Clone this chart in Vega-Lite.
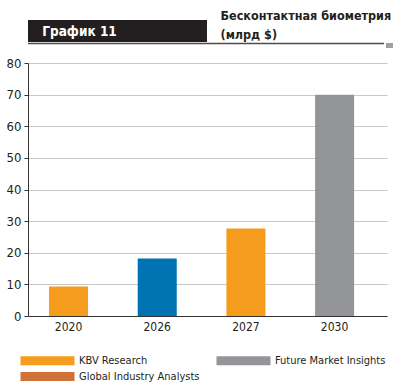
{
  "$schema": "https://vega.github.io/schema/vega-lite/v6.json",
  "background": "white",
  "padding": {"left": 6, "top": 10, "right": 0, "bottom": 0},
  "autosize": {"type": "pad"},
  "spacing": 0,
  "config": {
    "view": {"stroke": null},
    "font": "DejaVu Sans Condensed"
  },
  "datasets": {
    "header": [{"label": "График 11"}],
    "title": [{"label": "Бесконтактная биометрия\n(млрд $)"}],
    "bars": [
      {"year": "2020", "value": 9.3, "source": "KBV Research", "group": "KBV Research"},
      {"year": "2026", "value": 18.2, "source": "Global Industry Analysts", "group": "Global Industry Analysts (2026)"},
      {"year": "2027", "value": 27.7, "source": "KBV Research", "group": "KBV Research"},
      {"year": "2030", "value": 70, "source": "Future Market Insights", "group": "Future Market Insights"}
    ]
  },
  "vconcat": [
    {
      "spacing": 13,
      "hconcat": [
        {
          "width": 179,
          "height": 22,
          "view": {"fill": "#231f20", "stroke": null},
          "data": {"name": "header"},
          "mark": {"type": "text", "align": "center", "baseline": "middle", "dx": -38, "dy": 1, "fontWeight": "bold", "fontSize": 13.5, "color": "white"},
          "encoding": {"text": {"field": "label"}}
        },
        {
          "width": 1,
          "height": 22,
          "data": {"name": "title"},
          "mark": {"type": "text", "align": "left", "baseline": "alphabetic", "lineBreak": "\n", "lineHeight": 19, "dy": -11, "fontWeight": "bold", "fontSize": 12.5, "color": "#231f20"},
          "encoding": {"text": {"field": "label"}}
        }
      ]
    },
    {
      "spacing": 1,
      "hconcat": [
        {
          "width": 356,
          "height": 14,
          "data": {"values": [{"v": 0.97}]},
          "mark": {"type": "rule", "color": "#4d4d4f", "strokeWidth": 1.5},
          "encoding": {"y": {"field": "v", "type": "quantitative", "scale": {"domain": [0, 1]}, "axis": null}}
        },
        {
          "width": 7,
          "height": 5,
          "view": {"fill": "#9d9fa2", "stroke": null},
          "data": {"values": []},
          "mark": "point",
          "encoding": {}
        }
      ]
    },
    {
      "width": 359,
      "height": 253,
      "data": {"name": "bars"},
      "mark": {"type": "bar"},
      "encoding": {
        "x": {
          "field": "year",
          "type": "ordinal",
          "scale": {"paddingInner": 0.56, "paddingOuter": 0.304, "align": 0.39},
          "axis": {"title": null, "labelAngle": 0, "ticks": false, "labelPadding": 5, "domainColor": "#333333", "domainWidth": 1, "labelFontSize": 12, "labelColor": "#231f20"}
        },
        "y": {
          "field": "value",
          "type": "quantitative",
          "scale": {"domain": [0, 80]},
          "axis": {"title": null, "values": [0, 10, 20, 30, 40, 50, 60, 70, 80], "tickSize": 4, "tickColor": "#333333", "labelPadding": 3, "gridColor": "#c8c8c8", "gridWidth": 1.2, "domainColor": "#333333", "labelFontSize": 13, "labelColor": "#231f20"}
        },
        "color": {
          "field": "group",
          "type": "nominal",
          "scale": {
            "domain": ["KBV Research", "Future Market Insights", "Global Industry Analysts", "Global Industry Analysts (2026)"],
            "range": ["#f59c1e", "#939598", "#d2703a", "#0073b3"]
          },
          "legend": {
            "title": null,
            "orient": "none",
            "legendX": 14,
            "legendY": 335,
            "direction": "horizontal",
            "columns": 2,
            "values": ["KBV Research", "Future Market Insights", "Global Industry Analysts"],
            "symbolType": "M-6,-1L6,-1L6,1L-6,1Z",
            "symbolSize": 81,
            "symbolStrokeWidth": 0,
            "symbolOpacity": 1,
            "labelFontSize": 11,
            "labelColor": "#231f20",
            "labelOffset": 26,
            "labelLimit": 300,
            "columnPadding": 16,
            "rowPadding": 4
          }
        }
      }
    }
  ]
}
